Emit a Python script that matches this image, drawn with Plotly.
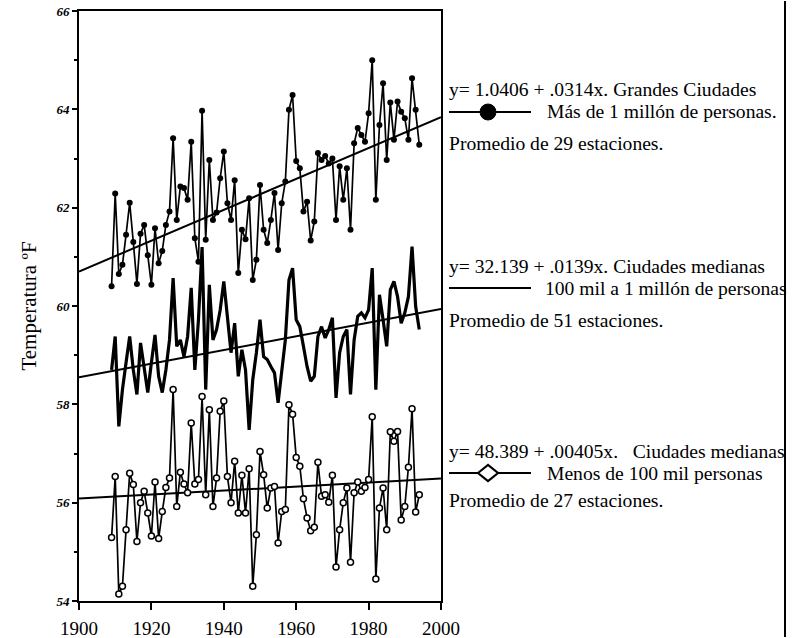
import plotly.graph_objects as go

years = list(range(1909, 1995))

grandes = [
    60.40, 62.29, 60.65, 60.84, 61.45, 62.10, 61.30, 60.45, 61.47, 61.65,
    61.03, 60.43, 61.58, 60.87, 61.12, 61.65, 61.92, 63.41, 61.75, 62.43,
    62.40, 62.16, 63.34, 61.38, 60.90, 63.97, 61.35, 62.97, 61.75, 61.90,
    62.60, 63.14, 62.09, 61.75, 62.56, 60.67, 61.55, 61.36, 62.19, 60.53,
    60.94, 62.46, 61.55, 61.28, 61.75, 62.30, 61.14, 62.09, 62.53, 63.99,
    64.29, 62.95, 62.80, 61.92, 62.12, 61.33, 61.72, 63.11, 62.97, 63.05,
    62.90, 63.00, 61.75, 62.84, 62.16, 62.80, 61.55, 63.31, 63.62, 63.48,
    63.34, 63.92, 65.00, 62.16, 63.68, 64.53, 62.97, 64.14, 63.38, 64.16,
    63.95, 63.82, 63.38, 64.63, 63.99, 63.28,
]

medianas = [
    58.70, 59.38, 57.55, 58.30, 58.85, 59.38, 58.70, 58.20, 59.25, 58.70,
    58.24, 58.85, 59.41, 58.57, 58.24, 58.70, 59.31, 60.57, 59.18, 59.31,
    58.97, 59.38, 60.37, 58.70, 59.72, 61.20, 58.30, 60.43, 59.31, 59.52,
    59.92, 60.50, 59.72, 59.05, 59.65, 58.57, 59.11, 58.70, 57.48, 58.50,
    59.05, 59.72, 58.97, 58.91, 58.77, 58.64, 58.03, 58.64, 59.31, 60.53,
    60.77, 59.72, 59.58, 59.18, 58.77, 58.47, 58.57, 59.38, 59.58, 59.35,
    59.52, 59.76, 58.13, 59.05, 59.38, 59.52, 58.20, 59.31, 59.79, 59.86,
    59.76, 59.92, 60.77, 58.30, 60.23, 59.72, 59.18, 60.33, 60.50, 60.19,
    59.65, 59.86, 60.19, 61.21, 59.99, 59.52,
]

pequenas = [
    55.29, 56.53, 54.14, 54.30, 55.45, 56.60, 56.37, 55.21, 56.00, 56.23,
    55.79, 55.32, 56.42, 55.27, 55.82, 56.31, 56.50, 58.30, 55.92, 56.62,
    56.38, 56.20, 57.62, 56.38, 56.47, 58.16, 56.16, 57.89, 55.92, 56.50,
    57.86, 58.07, 56.53, 56.00, 56.84, 55.79, 56.56, 55.79, 56.69, 54.30,
    55.35, 57.04, 56.57, 55.89, 56.30, 56.33, 55.18, 55.82, 55.86, 57.99,
    57.80, 56.92, 56.74, 56.08, 55.69, 55.43, 55.50, 56.82, 56.13, 56.16,
    56.01, 56.56, 54.69, 55.45, 56.00, 56.30, 54.79, 56.20, 56.42, 56.23,
    56.31, 56.47, 57.75, 54.45, 55.89, 56.30, 55.45, 57.44, 57.25, 57.45,
    55.65, 55.92, 56.72, 57.91, 55.81, 56.16,
]

# regression equations printed on the chart: y = a + b*x
trend_coefs = [(1.0406, 0.0314), (32.139, 0.0139), (48.389, 0.00405)]
trend_x = [1900, 2000]

x_ticks = [1900, 1920, 1940, 1960, 1980, 2000]
y_ticks = [54, 56, 58, 60, 62, 64, 66]

legend_texts = [
    ("y= 1.0406 + .0314x. Grandes Ciudades", "Más de 1 millón de personas.", "Promedio de 29 estaciones."),
    ("y= 32.139 + .0139x. Ciudades medianas", "100 mil a 1 millón de personas", "Promedio de 51 estaciones."),
    ("y= 48.389 + .00405x.\u00a0\u00a0\u00a0Ciudades medianas", "Menos de 100 mil personas", "Promedio de 27 estaciones."),
]
y_title = "Temperatura ºF"

SERIF = "Liberation Serif"

fig = go.Figure()

# trend lines
for a, b in trend_coefs:
    fig.add_trace(go.Scatter(
        x=trend_x, y=[a + b * t for t in trend_x], mode="lines",
        line=dict(color="black", width=2), showlegend=False, hoverinfo="skip"))

fig.add_trace(go.Scatter(
    x=years, y=grandes, mode="lines+markers",
    line=dict(color="black", width=1.7),
    marker=dict(symbol="circle", size=6, color="black"),
    showlegend=False))

fig.add_trace(go.Scatter(
    x=years, y=medianas, mode="lines",
    line=dict(color="black", width=3.2),
    showlegend=False))

fig.add_trace(go.Scatter(
    x=years, y=pequenas, mode="lines+markers",
    line=dict(color="black", width=1.7),
    marker=dict(symbol="circle", size=6, color="white",
                line=dict(color="black", width=1.5)),
    showlegend=False))

# pixel -> paper helpers (plot area: x 79..441, y 11..601)
L, R, T, B = 79, 441, 11, 601
def px(x):
    return (x - L) / (R - L)
def py(y):
    return (B - y) / (B - T)

font = dict(family=SERIF, size=19.6, color="black")
annotations = []
shapes = []

group_y = [(89, 112, 143), (266, 288, 320), (451, 473, 500)]
for i, ((eq, desc, prom), (y1, y2, y3)) in enumerate(zip(legend_texts, group_y)):
    annotations.append(dict(text=eq, x=px(447), y=py(y1), xref="paper", yref="paper",
                            xanchor="left", yanchor="middle", showarrow=False, font=font))
    annotations.append(dict(text=desc, x=px(545 if i != 1 else 543), y=py(y2), xref="paper", yref="paper",
                            xanchor="left", yanchor="middle", showarrow=False, font=font))
    annotations.append(dict(text=prom, x=px(447), y=py(y3), xref="paper", yref="paper",
                            xanchor="left", yanchor="middle", showarrow=False, font=font))
    shapes.append(dict(type="line", xref="paper", yref="paper",
                       x0=px(449), x1=px(531), y0=py(y2), y1=py(y2),
                       line=dict(color="black", width=2)))

# outer page border on the right, drawn as a thin filled annotation box
annotations.append(dict(text=" ", x=px(785), y=py(319), xref="paper", yref="paper",
                        xanchor="center", yanchor="middle", showarrow=False,
                        width=2, height=636, bgcolor="black", borderpad=0, borderwidth=0,
                        font=dict(size=1)))

# legend symbols
shapes.append(dict(type="circle", xref="paper", yref="paper",
                   xsizemode="pixel", ysizemode="pixel",
                   xanchor=px(488), yanchor=py(112),
                   x0=-8, x1=8, y0=-8, y1=8,
                   fillcolor="black", line=dict(color="black", width=1)))
shapes.append(dict(type="path", xref="paper", yref="paper",
                   xsizemode="pixel", ysizemode="pixel",
                   xanchor=px(488), yanchor=py(473),
                   path="M -10 0 L 0 8 L 10 0 L 0 -8 Z",
                   fillcolor="white", line=dict(color="black", width=2.2)))

fig.update_layout(
    width=792, height=638,
    margin=dict(l=L, r=792 - R, t=T, b=638 - B, pad=0, autoexpand=False),
    paper_bgcolor="white", plot_bgcolor="white",
    annotations=annotations, shapes=shapes,
    showlegend=False,
)

fig.update_xaxes(
    range=[1900, 2000], tickvals=x_ticks, ticktext=[str(t) for t in x_ticks],
    showgrid=False, zeroline=False, automargin=False,
    showline=True, linecolor="black", linewidth=2, mirror=True,
    ticks="outside", ticklen=7, tickwidth=1.5, tickcolor="black",
    tickfont=dict(family=SERIF, size=19, color="black"),
    ticklabelstandoff=2,
)
fig.update_yaxes(
    range=[54, 66], tickvals=y_ticks, ticktext=[str(t) for t in y_ticks],
    showgrid=False, zeroline=False, automargin=False,
    showline=True, linecolor="black", linewidth=2, mirror=True,
    ticks="outside", ticklen=5, tickwidth=1.5, tickcolor="black",
    minor=dict(dtick=1, ticks="outside", ticklen=3, tickcolor="black", showgrid=False),
    tickfont=dict(family=SERIF, size=13, color="black", weight="bold", style="italic"),
    title=dict(text=y_title, font=dict(family=SERIF, size=21, color="black"), standoff=14),
)

fig.write_html(
    "out.html",
    config={"displayModeBar": False},
    post_script="document.body.style.margin='0';document.body.style.overflow='hidden';",
)
